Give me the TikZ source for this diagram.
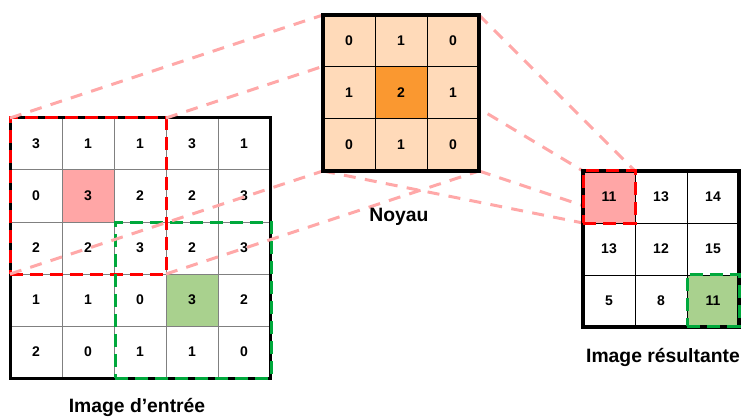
\documentclass[tikz,border=0pt]{standalone}
\usepackage{fontspec}
\setmainfont{Liberation Sans}
\definecolor{gridgray}{RGB}{128,128,128}
\definecolor{hotcell}{RGB}{255,166,166}
\definecolor{goodcell}{RGB}{169,209,142}
\definecolor{kernfill}{RGB}{255,218,185}
\definecolor{kerncenter}{RGB}{250,152,48}
\definecolor{redframe}{RGB}{255,0,0}
\definecolor{greenframe}{RGB}{0,168,60}
\definecolor{linkpink}{RGB}{255,168,168}
\pgfdeclarelayer{bg}
\pgfdeclarelayer{links}
\pgfsetlayers{bg,links,main}

\begin{document}
\begin{tikzpicture}[x=0.75pt,y=-0.75pt,
  cellbase/.style={minimum size=39pt, inner sep=0pt, outer sep=0pt,
    font=\bfseries\fontsize{10.5}{12}\selectfont},
  incell/.style={cellbase, draw=gridgray, line width=0.75pt, fill=white},
  kcell/.style={cellbase, draw=black, line width=0.75pt, fill=kernfill},
  outcell/.style={cellbase, draw=black, line width=0.75pt, fill=white},
  gridframe/.style={draw=black, line width=#1, inner sep=0pt, outer sep=0pt},
  selred/.style={draw=redframe, line width=2.25pt, dash pattern=on 10pt off 5pt,
    inner sep=0pt, outer sep=0pt},
  selgreen/.style={draw=greenframe, line width=2.25pt, dash pattern=on 10pt off 5pt,
    inner sep=0pt, outer sep=0pt},
  link/.style={draw=linkpink, line width=2.25pt, dash pattern=on 9pt off 7pt},
  caption/.style={font=\bfseries\fontsize{14.5}{17}\selectfont, inner sep=0pt},
  infill/1-1/.style={fill=hotcell},
  infill/3-3/.style={fill=goodcell},
  kfill/1-1/.style={fill=kerncenter},
  outfill/0-0/.style={fill=hotcell},
  outfill/2-2/.style={fill=goodcell},
]
\useasboundingbox (0,0) rectangle (742,417);

% input image, 5x5
\begin{pgfonlayer}{bg}
  \foreach \row [count=\r from 0] in {{3,1,1,3,1},{0,3,2,2,3},{2,2,3,2,3},{1,1,0,3,2},{2,0,1,1,0}} {
    \foreach \v [count=\c from 0] in \row {
      \node[incell, infill/\r-\c/.try] (in-\r-\c) at ({36+52*\c},{144+52*\r}) {\v};
    }
  }
  \node[gridframe=2.25pt, minimum size=195pt] (inframe) at (140,248) {};
  \node[selred, minimum size=117pt] (inred) at (88,196) {};
  \node[selgreen, minimum size=117pt] (ingreen) at (193,300) {};
\end{pgfonlayer}

% kernel, 3x3
\foreach \row [count=\r from 0] in {{0,1,0},{1,2,1},{0,1,0}} {
  \foreach \v [count=\c from 0] in \row {
    \node[kcell, kfill/\r-\c/.try] (k-\r-\c) at ({349+52*\c},{41+52*\r}) {\v};
  }
}
\node[gridframe=3pt, minimum size=117pt] (kernel) at (401,93) {};

% output image, 3x3
\foreach \row [count=\r from 0] in {{11,13,14},{13,12,15},{5,8,11}} {
  \foreach \v [count=\c from 0] in \row {
    \node[outcell, outfill/\r-\c/.try] (out-\r-\c) at ({609+52*\c},{197+52*\r}) {\v};
  }
}
\node[gridframe=2.5pt, minimum size=117pt] (outframe) at (661,249) {};
\node[selred, minimum size=39pt] (outred) at (609,197) {};
\node[selgreen, minimum size=39pt] (outgreen) at (713,300) {};

% projection lines: window -> kernel -> result cell
\begin{pgfonlayer}{links}
  \foreach \a in {north west, north east, south west, south east} {
    \draw[link] (inred.\a) -- (kernel.\a);
    \draw[link] (kernel.\a) -- (outred.\a);
  }
\end{pgfonlayer}

% captions
\node[caption] (cap-in) at (137,407) {Image d’entrée};
\node[caption] (cap-k) at (399,217) {Noyau};
\node[caption] (cap-out) at (663,357) {Image résultante};
\end{tikzpicture}
\end{document}
